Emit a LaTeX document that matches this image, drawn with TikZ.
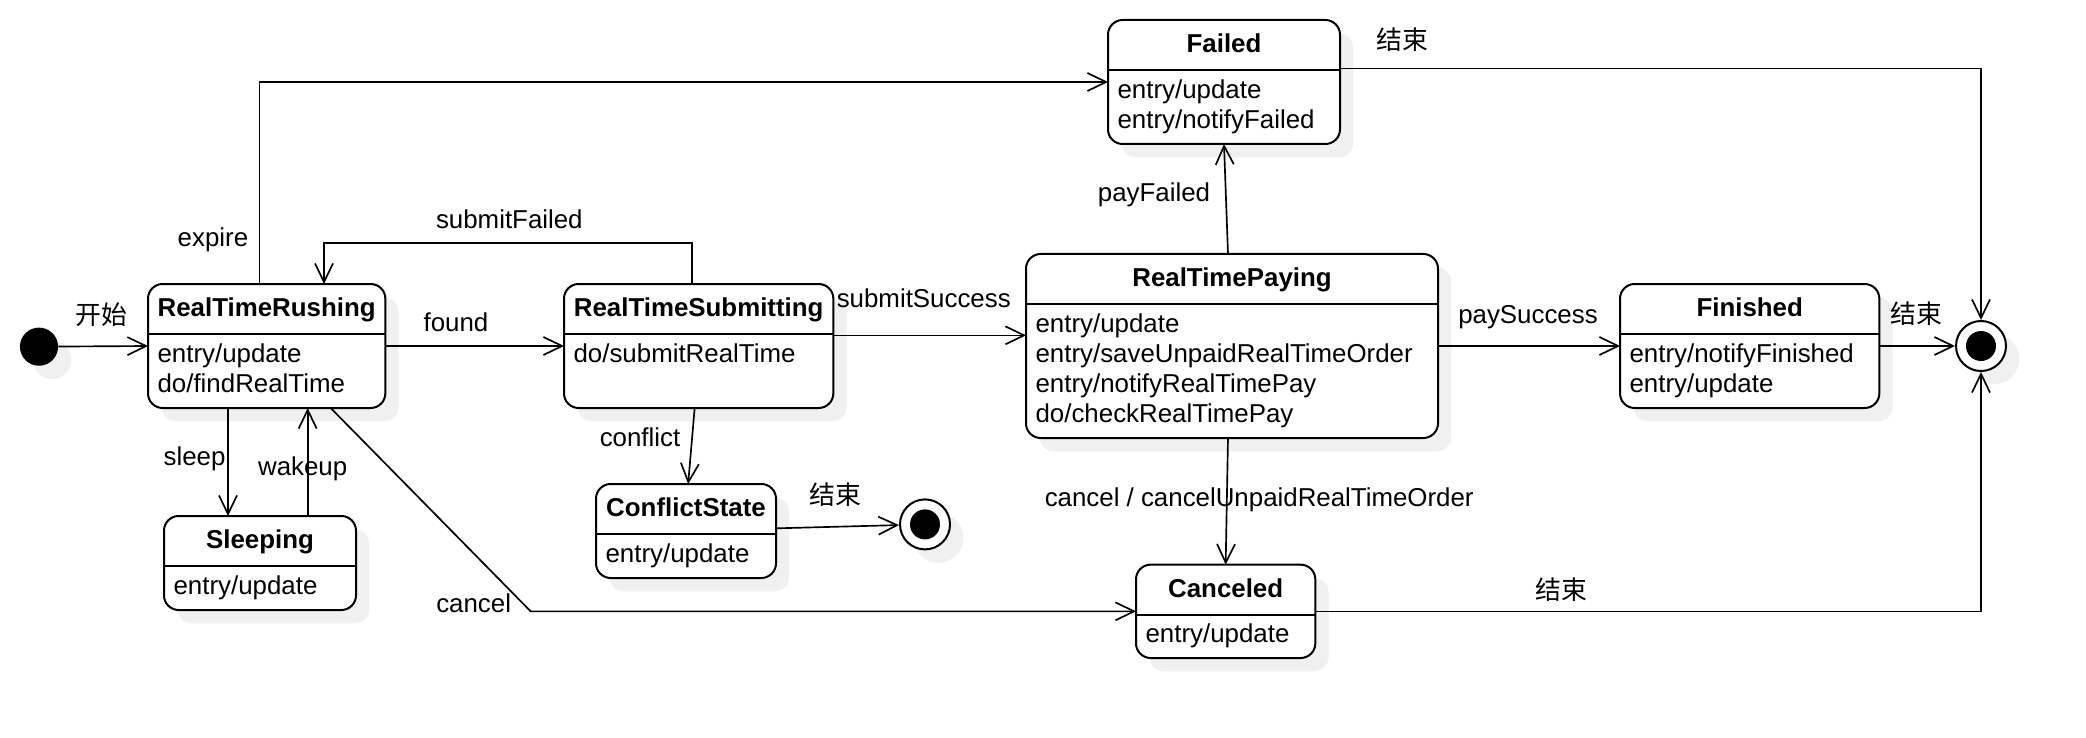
\documentclass[tikz,border=0pt]{standalone}
\usepackage{fontspec}
\setmainfont{Liberation Sans}
\newfontfamily\cjk{Noto Sans CJK SC}
\usetikzlibrary{arrows.meta,shadows}
\begin{document}
\begin{tikzpicture}[x=1pt,y=-1pt,font=\fontsize{19.4}{22.5}\selectfont,
  stbox/.style={draw,line width=1.5pt,rounded corners=11pt,fill=white,anchor=north west,inner sep=0pt,outer sep=0pt,
    drop shadow={shadow xshift=10pt,shadow yshift=-10pt,fill=black!6,opacity=1}},
  title/.style={anchor=base,inner sep=0pt,font=\fontsize{19.4}{22.5}\selectfont\bfseries},
  body/.style={anchor=base west,inner sep=0pt},
  lbl/.style={anchor=base,inner sep=0pt},
  cjklbl/.style={inner sep=0pt,font=\fontsize{19.4}{22.5}\selectfont\cjk},
  trans/.style={line width=1.25pt,-{Straight Barb[length=14pt,width=13.5pt]}},
  ring/.style={circle,draw,line width=1.5pt,fill=white,minimum size=37.5pt,inner sep=0pt,
    drop shadow={shadow xshift=10pt,shadow yshift=-10pt,fill=black!6,opacity=1}},
  blob/.style={circle,fill,inner sep=0pt}]
\useasboundingbox (0,0) rectangle (1564.5,553.5);

\node[blob,minimum size=28.6pt,drop shadow={shadow xshift=10pt,shadow yshift=-10pt,fill=black!6,opacity=1}] (init) at (29.25,260) {};

\node[stbox,minimum width=178pt,minimum height=93pt] (rushing) at (111,213) {};
\node[title] (rushingT) at ([yshift=-24.5pt]rushing.north) {RealTimeRushing};
\draw[line width=1.5pt] ([yshift=-37.5pt]rushing.north west) -- ([yshift=-37.5pt]rushing.north east);
\node[body] (rushingB) at ([xshift=7pt,yshift=-58.7pt]rushing.north west) {\begin{tabular}[t]{@{}l@{}}entry/update\\do/findRealTime\end{tabular}};

\node[stbox,minimum width=202pt,minimum height=93pt] (submitting) at (423,213) {};
\node[title] (submittingT) at ([yshift=-24.5pt]submitting.north) {RealTimeSubmitting};
\draw[line width=1.5pt] ([yshift=-37.5pt]submitting.north west) -- ([yshift=-37.5pt]submitting.north east);
\node[body] (submittingB) at ([xshift=7pt,yshift=-58.7pt]submitting.north west) {do/submitRealTime};

\node[stbox,minimum width=309pt,minimum height=138pt] (paying) at (769.5,190.5) {};
\node[title] (payingT) at ([yshift=-24.5pt]paying.north) {RealTimePaying};
\draw[line width=1.5pt] ([yshift=-37.5pt]paying.north west) -- ([yshift=-37.5pt]paying.north east);
\node[body] (payingB) at ([xshift=7pt,yshift=-58.7pt]paying.north west) {\begin{tabular}[t]{@{}l@{}}entry/update\\entry/saveUnpaidRealTimeOrder\\entry/notifyRealTimePay\\do/checkRealTimePay\end{tabular}};

\node[stbox,minimum width=174pt,minimum height=93pt] (failed) at (831,15) {};
\node[title] (failedT) at ([yshift=-24.5pt]failed.north) {Failed};
\draw[line width=1.5pt] ([yshift=-37.5pt]failed.north west) -- ([yshift=-37.5pt]failed.north east);
\node[body] (failedB) at ([xshift=7pt,yshift=-58.7pt]failed.north west) {\begin{tabular}[t]{@{}l@{}}entry/update\\entry/notifyFailed\end{tabular}};

\node[stbox,minimum width=194.5pt,minimum height=93pt] (finished) at (1215,213) {};
\node[title] (finishedT) at ([yshift=-24.5pt]finished.north) {Finished};
\draw[line width=1.5pt] ([yshift=-37.5pt]finished.north west) -- ([yshift=-37.5pt]finished.north east);
\node[body] (finishedB) at ([xshift=7pt,yshift=-58.7pt]finished.north west) {\begin{tabular}[t]{@{}l@{}}entry/notifyFinished\\entry/update\end{tabular}};

\node[stbox,minimum width=144pt,minimum height=70.5pt] (sleeping) at (123,387) {};
\node[title] (sleepingT) at ([yshift=-24.5pt]sleeping.north) {Sleeping};
\draw[line width=1.5pt] ([yshift=-37.5pt]sleeping.north west) -- ([yshift=-37.5pt]sleeping.north east);
\node[body] (sleepingB) at ([xshift=7pt,yshift=-58.7pt]sleeping.north west) {entry/update};

\node[stbox,minimum width=135pt,minimum height=70.5pt] (conflict) at (447,363) {};
\node[title] (conflictT) at ([yshift=-24.5pt]conflict.north) {ConflictState};
\draw[line width=1.5pt] ([yshift=-37.5pt]conflict.north west) -- ([yshift=-37.5pt]conflict.north east);
\node[body] (conflictB) at ([xshift=7pt,yshift=-58.7pt]conflict.north west) {entry/update};

\node[stbox,minimum width=134.5pt,minimum height=70pt] (canceled) at (852,423.5) {};
\node[title] (canceledT) at ([yshift=-24.5pt]canceled.north) {Canceled};
\draw[line width=1.5pt] ([yshift=-37.5pt]canceled.north west) -- ([yshift=-37.5pt]canceled.north east);
\node[body] (canceledB) at ([xshift=7pt,yshift=-58.7pt]canceled.north west) {entry/update};

\node[ring] (endR) at (1485.75,259.5) {};
\node[blob,minimum size=22.5pt] (endRdot) at (endR) {};
\node[ring] (endC) at (693.75,393.3) {};
\node[blob,minimum size=22.5pt] (endCdot) at (endC) {};

\coordinate (sleepA) at ([xshift=-29pt]rushing.south);
\coordinate (wakeA) at ([xshift=30.75pt]rushing.south);
\coordinate (bend) at (398,458.5);

\draw[trans] (init) -- (rushing.west);
\draw[trans] ([xshift=-5.4pt]rushing.north) |- (failed.west);
\draw[trans] ([xshift=-4.8pt]submitting.north) -- ++(0,-30.5) -| ([xshift=43pt]rushing.north);
\draw[trans] (rushing.east) -- (submitting.west);
\draw[trans] ([yshift=8pt]submitting.east) -- ([yshift=8pt]paying.west);
\draw[trans] ([xshift=-3pt]paying.north) -- (failed.south);
\draw[trans] (paying.east) -- (finished.west);
\draw[trans] (finished.east) -- (endR);
\draw[trans] ([yshift=10pt]failed.east) -| (endR);
\draw[trans] (canceled.east) -| (endR);
\draw[trans] ([xshift=-3pt]paying.south) -- (canceled.north);
\draw[trans] ([xshift=48pt]rushing.south) -- (bend) -- (canceled.west);
\draw[trans] (sleepA) -- (sleepA |- sleeping.north);
\draw[trans] (wakeA |- sleeping.north) -- (wakeA);
\draw[trans] ([xshift=-3pt]submitting.south) -- ([xshift=1.6pt]conflict.north);
\draw[trans] ([yshift=2pt]conflict.east) -- (endC);

\node[cjklbl] (lStart) at (75.75,236.25) {开始};
\node[lbl] (lExpire) at (159.7,185.2) {expire};
\node[lbl] (lSubmitFailed) at (382,171.3) {submitFailed};
\node[lbl] (lFound) at (342,248.7) {found};
\node[lbl] (lSubmitSuccess) at (692.8,230.5) {submitSuccess};
\node[lbl] (lPayFailed) at (865.5,151) {payFailed};
\node[lbl] (lPaySuccess) at (1146,242.5) {paySuccess};
\node[cjklbl] (lEndFinished) at (1437.5,235) {结束};
\node[cjklbl] (lEndFailed) at (1051.5,30) {结束};
\node[cjklbl] (lEndCanceled) at (1171.2,442.5) {结束};
\node[cjklbl] (lEndConflict) at (626.25,371.25) {结束};
\node[lbl] (lCancelPay) at (944.4,380) {cancel / cancelUnpaidRealTimeOrder};
\node[lbl] (lCancel) at (355.25,459.5) {cancel};
\node[lbl] (lSleep) at (145.9,348.75) {sleep};
\node[lbl] (lWakeup) at (227,356.25) {wakeup};
\node[lbl] (lConflict) at (480,334.5) {conflict};
\end{tikzpicture}
\end{document}
